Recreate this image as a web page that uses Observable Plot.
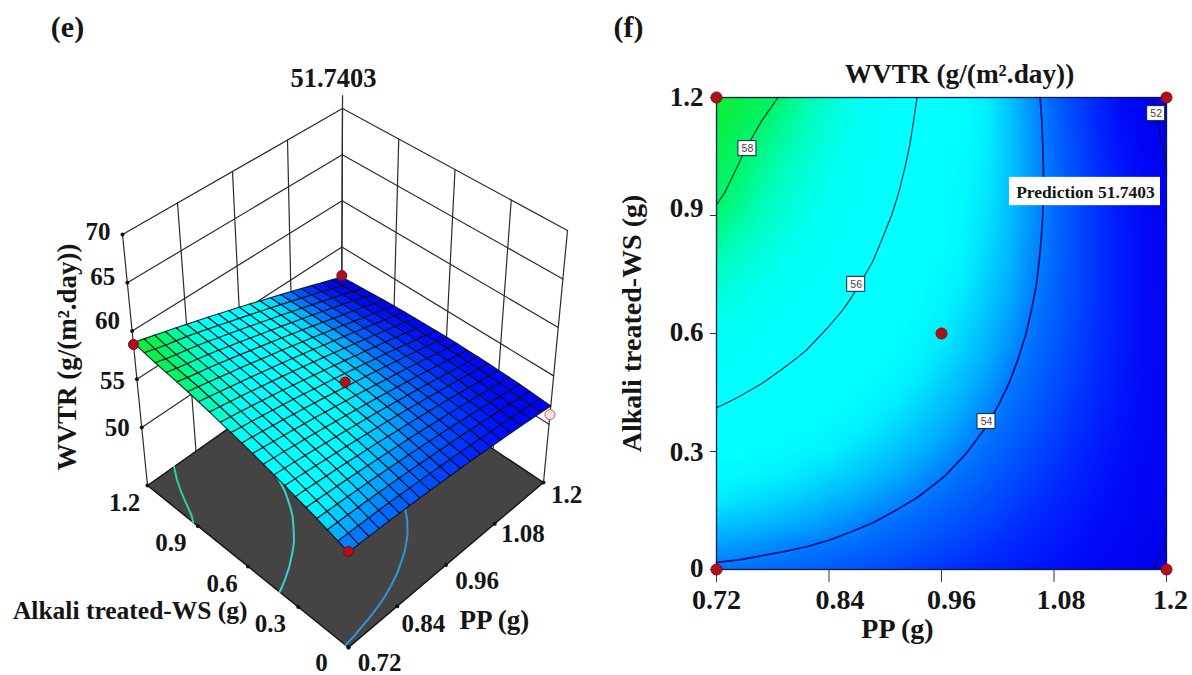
<!DOCTYPE html>
<html><head><meta charset="utf-8">
<style>
html,body{margin:0;padding:0;background:#fff;width:1192px;height:675px;overflow:hidden}
#e,#f{position:absolute;top:0}
#e{left:0}#f{left:600px}
</style>
<script src="https://cdn.jsdelivr.net/npm/d3@7"></script>
<script src="https://cdn.jsdelivr.net/npm/@observablehq/plot@0.6"></script>
</head><body><div id="e"></div><div id="f"></div>
<script>
// ---- data ----
const ppTicks = [0.72, 0.84, 0.96, 1.08, 1.2];
const wsTicks = [0, 0.3, 0.6, 0.9, 1.2];
const zTicks = [50, 55, 60, 65, 70];
const contourLevels = [52, 54, 56, 58];
// WVTR on a 21×21 mesh: rows run from WS = 1.2 down to WS = 0, columns from PP = 0.72 to 1.2
const wvtr = [
[58.80,58.51,58.22,57.92,57.62,57.29,56.98,56.65,56.31,55.97,55.62,55.26,54.89,54.53,54.15,53.76,53.38,52.98,52.57,52.16,51.74],
[58.60,58.30,58.00,57.76,57.51,57.21,56.90,56.58,56.25,55.92,55.59,55.24,54.89,54.54,54.17,53.80,53.42,53.04,52.64,52.24,51.84],
[58.40,58.10,57.85,57.63,57.39,57.10,56.80,56.50,56.19,55.87,55.55,55.21,54.88,54.53,54.18,53.82,53.46,53.08,52.71,52.31,51.92],
[58.24,57.97,57.72,57.50,57.26,56.99,56.70,56.42,56.11,55.81,55.50,55.18,54.85,54.53,54.18,53.84,53.48,53.13,52.76,52.38,52.00],
[58.10,57.84,57.60,57.38,57.13,56.87,56.60,56.31,56.03,55.75,55.45,55.14,54.82,54.50,54.18,53.84,53.50,53.15,52.80,52.44,52.08],
[57.92,57.71,57.47,57.23,56.99,56.74,56.48,56.21,55.94,55.67,55.37,55.09,54.78,54.47,54.16,53.84,53.51,53.17,52.84,52.49,52.13],
[57.73,57.51,57.29,57.06,56.84,56.60,56.35,56.09,55.84,55.58,55.30,55.02,54.73,54.43,54.13,53.83,53.51,53.18,52.86,52.53,52.18],
[57.51,57.31,57.10,56.90,56.67,56.45,56.21,55.98,55.73,55.48,55.22,54.95,54.67,54.39,54.10,53.80,53.50,53.19,52.87,52.55,52.22],
[57.28,57.10,56.91,56.71,56.50,56.29,56.07,55.84,55.61,55.36,55.11,54.86,54.60,54.33,54.06,53.77,53.48,53.18,52.88,52.57,52.25],
[57.06,56.88,56.70,56.52,56.33,56.13,55.92,55.70,55.47,55.25,55.01,54.77,54.52,54.27,54.00,53.74,53.46,53.17,52.87,52.58,52.27],
[56.82,56.66,56.49,56.32,56.14,55.94,55.75,55.55,55.34,55.12,54.90,54.67,54.43,54.19,53.94,53.68,53.42,53.14,52.86,52.58,52.29],
[56.57,56.42,56.26,56.10,55.94,55.76,55.58,55.39,55.19,54.99,54.78,54.56,54.33,54.10,53.87,53.63,53.37,53.11,52.84,52.57,52.29],
[56.30,56.17,56.03,55.88,55.73,55.56,55.39,55.21,55.03,54.84,54.64,54.44,54.23,54.01,53.78,53.55,53.31,53.06,52.81,52.55,52.28],
[56.04,55.92,55.79,55.65,55.50,55.36,55.20,55.04,54.86,54.69,54.50,54.31,54.11,53.91,53.69,53.47,53.24,53.01,52.77,52.52,52.27],
[55.77,55.66,55.54,55.41,55.28,55.14,55.00,54.84,54.69,54.53,54.36,54.18,53.99,53.79,53.59,53.38,53.17,52.94,52.72,52.49,52.25],
[55.47,55.38,55.28,55.16,55.05,54.92,54.79,54.65,54.51,54.36,54.19,54.03,53.85,53.67,53.48,53.29,53.09,52.87,52.66,52.44,52.21],
[55.18,55.10,55.00,54.90,54.80,54.69,54.57,54.44,54.31,54.17,54.03,53.87,53.71,53.53,53.36,53.18,52.99,52.79,52.59,52.39,52.17],
[54.88,54.80,54.72,54.64,54.54,54.44,54.33,54.23,54.10,53.98,53.84,53.70,53.55,53.40,53.23,53.06,52.88,52.71,52.51,52.32,52.12],
[54.55,54.49,54.43,54.36,54.28,54.19,54.10,54.00,53.89,53.77,53.65,53.52,53.39,53.24,53.10,52.94,52.78,52.60,52.43,52.24,52.05],
[54.23,54.19,54.13,54.07,54.01,53.94,53.85,53.76,53.66,53.56,53.45,53.34,53.21,53.09,52.95,52.81,52.66,52.50,52.33,52.16,51.98],
[53.90,53.87,53.82,53.78,53.73,53.66,53.60,53.52,53.43,53.34,53.25,53.14,53.03,52.92,52.80,52.66,52.53,52.38,52.22,52.07,51.90]
];
const designPP = [0.72, 1.2, 0.96, 0.72, 1.2];
const designWS = [1.2, 1.2, 0.6, 0, 0];
const designZ = [58.6, 51.9, 55.4, 54.0, 51.0];
const contourLabelPP = [0.753, 0.869, 1.008, 1.189];
const contourLabelWS = [1.070, 0.725, 0.376, 1.159];
const contourLabelText = ["58", "56", "54", "52"];

// ---- shared styles ----
const serif = "Liberation Serif";
const PP = [0.72, 1.2], WS = [0, 1.2], Zr = [44, 70];
const colorOpt = {
  type: "linear", interpolate: "rgb",
  domain: [51.8, 52.6, 53.1, 54, 54.3, 54.9, 55.3, 56.4, 57, 57.5, 58, 58.8],
  range: ["rgb(0,0,235)", "rgb(0,10,250)", "rgb(0,40,255)", "rgb(0,120,255)", "rgb(0,170,255)", "rgb(0,240,255)", "rgb(0,255,255)", "rgb(0,255,255)", "rgb(0,255,238)", "rgb(0,255,190)", "rgb(0,245,105)", "rgb(15,235,50)"]
};
const n = wvtr.length;
const ppAt = i => PP[0] + i / (n - 1) * (PP[1] - PP[0]);
const wsAt = j => WS[1] - j / (n - 1) * (WS[1] - WS[0]);

// open contour polylines, in data units, from the WVTR table
function contourPieces() {
  const out = [];
  const flat = wvtr.flat();
  let id = 0;
  for (const c of d3.contours().size([n, n]).thresholds(contourLevels)(flat)) {
    for (const poly of c.coordinates) for (const ring of poly) {
      let piece = [];
      const pts = ring.map(([x, y]) => [Math.max(.5, Math.min(n - .5, x)), Math.max(.5, Math.min(n - .5, y))]);
      const onEdge = (a, b) => (a[0] === b[0] && (a[0] === .5 || a[0] === n - .5)) || (a[1] === b[1] && (a[1] === .5 || a[1] === n - .5));
      const flush = () => {
        if (piece.length > 1) { id++; piece.forEach(d => d.id = id); out.push(...piece); }
        piece = [];
      };
      pts.forEach((p, k) => {
        if (k && onEdge(pts[k - 1], p)) flush();
        piece.push({pp: ppAt(p[0] - .5), ws: wsAt(p[1] - .5), level: c.value});
      });
      flush();
    }
  }
  return out;
}
const pieces = contourPieces();

// ---- (e) perspective box: corners of the floor and of the top plane ----
const floorC = {front: [348, 647], right: [543, 482], left: [147, 485], back: [341, 348]};
const topC = {front: [348, 397], right: [567, 230], left: [122, 234], back: [342, 108]};
function project(pp, ws, z) {
  const u = (pp - PP[0]) / (PP[1] - PP[0]), w = (ws - WS[0]) / (WS[1] - WS[0]), t = (z - Zr[0]) / (Zr[1] - Zr[0]);
  const bil = (c, k) => (1 - u) * (1 - w) * c.front[k] + u * (1 - w) * c.right[k] + (1 - u) * w * c.left[k] + u * w * c.back[k];
  return {x: (1 - t) * bil(floorC, 0) + t * bil(topC, 0), y: (1 - t) * bil(floorC, 1) + t * bil(topC, 1)};
}
const pt = (pp, ws, z, extra) => ({...project(pp, ws, z), ...extra});

// walls
const wallLines = [];
let wid = 0;
for (const z of zTicks) {
  wid++; wallLines.push(pt(PP[0], WS[1], z, {id: wid}), pt(PP[1], WS[1], z, {id: wid}), pt(PP[1], WS[0], z, {id: wid}));
}
for (const p of ppTicks) { wid++; wallLines.push(pt(p, WS[1], Zr[0], {id: wid}), pt(p, WS[1], Zr[1], {id: wid})); }
for (const s of wsTicks) { wid++; wallLines.push(pt(PP[1], s, Zr[0], {id: wid}), pt(PP[1], s, Zr[1], {id: wid})); }
wid++; wallLines.push(pt(PP[1], WS[1], Zr[1], {id: wid}), pt(PP[1], WS[1], 71.4, {id: wid}));

const floorPoly = [pt(PP[0], WS[0], Zr[0]), pt(PP[1], WS[0], Zr[0]), pt(PP[1], WS[1], Zr[0]), pt(PP[0], WS[1], Zr[0])];
const floorContours = pieces.map(d => ({...project(d.pp, d.ws, Zr[0]), id: d.id, level: d.level}));

// mesh quads
const quads = [];
for (let j = 0; j < n - 1; j++) for (let i = n - 2; i >= 0; i--) {
  const id = j * n + i;
  const v = (wvtr[j][i] + wvtr[j][i + 1] + wvtr[j + 1][i] + wvtr[j + 1][i + 1]) / 4;
  quads.push(pt(ppAt(i), wsAt(j), wvtr[j][i], {id, v}), pt(ppAt(i + 1), wsAt(j), wvtr[j][i + 1], {id, v}),
    pt(ppAt(i + 1), wsAt(j + 1), wvtr[j + 1][i + 1], {id, v}), pt(ppAt(i), wsAt(j + 1), wvtr[j + 1][i], {id, v}));
}

const floorContourColor = {54: "#2f95dc", 56: "#35d3cf", 58: "#2fd09a"};
const design = designPP.map((p, i) => pt(p, designWS[i], designZ[i], {low: i === 4}));
const txt = {fontFamily: serif, fontWeight: "bold", fill: "#151515"};

// nudges for the tick labels as they sit in the picture
const zNudgeY = [0, 2, -10, -6, -3];
const wsNudgeX = [-27, -28, -26, -27, -23];
const wsNudgeY = [15, 17, 17, 17, 17];
const ppNudge = [[31, 15], [26, 18], [31, 16], [28, 10], [23, 12]];

const chartE = Plot.plot({
  width: 600, height: 675, margin: 0,
  style: {background: "white", fontFamily: serif},
  x: {domain: [0, 600], range: [0, 600], axis: null},
  y: {domain: [0, 675], range: [0, 675], axis: null},
  color: colorOpt,
  marks: [
    Plot.line(wallLines, {x: "x", y: "y", z: "id", stroke: "#2b2b2b", strokeWidth: 1.2, curve: "linear"}),
    Plot.line(floorPoly, {x: "x", y: "y", fill: "#454343", stroke: "#111", strokeWidth: 1.4, curve: "linear-closed"}),
    ...[54, 56, 58].map(l => Plot.line(floorContours.filter(d => d.level === l), {x: "x", y: "y", z: "id", stroke: floorContourColor[l], strokeWidth: 2})),
    Plot.dot(zTicks.map(z => pt(PP[0], WS[1], z)), {x: "x", y: "y", r: 2, fill: "#111"}),
    Plot.dot(wsTicks.map(s => pt(PP[0], s, Zr[0])), {x: "x", y: "y", r: 2, fill: "#111"}),
    Plot.dot(ppTicks.map(p => pt(p, WS[0], Zr[0])), {x: "x", y: "y", r: 2, fill: "#111"}),
    Plot.line(quads, {x: "x", y: "y", z: "id", fill: "v", stroke: "#08141c", strokeWidth: 1.15, strokeOpacity: 0.9, curve: "linear-closed"}),
    Plot.dot(design, {x: "x", y: "y", r: 5, fill: d => d.low ? "#fbdfe0" : "#b0101a", stroke: d => d.low ? "#c06060" : "#7a0a10", strokeWidth: 1}),
    ...zTicks.map((z, i) => Plot.text([String(z)], {...pt(PP[0], WS[1], z), ...txt, fontSize: 25, textAnchor: "end", dx: -12, dy: zNudgeY[i]})),
    ...wsTicks.map((s, i) => Plot.text([String(s)], {...pt(PP[0], s, Zr[0]), ...txt, fontSize: 25, dx: wsNudgeX[i], dy: wsNudgeY[i]})),
    ...ppTicks.map((p, i) => Plot.text([String(p)], {...pt(p, WS[0], Zr[0]), ...txt, fontSize: 25, dx: ppNudge[i][0], dy: ppNudge[i][1]})),
    Plot.text(["51.7403"], {...pt(PP[1], WS[1], Zr[1]), ...txt, fontSize: 26.5, dx: -9, dy: -30}),
    Plot.text(["WVTR (g/(m².day))"], {...pt(PP[0], WS[1], 57), ...txt, fontSize: 27, rotate: -90, dx: -68, dy: -3}),
    Plot.text(["Alkali treated-WS (g)"], {...pt(PP[0], 0.3, Zr[0]), ...txt, fontSize: 25.5, dx: -168, dy: 4}),
    Plot.text(["PP (g)"], {...pt(0.84, WS[0], Zr[0]), ...txt, fontSize: 27, dx: 97, dy: 14}),
    Plot.text(["(e)"], {...pt(PP[0], WS[1], Zr[1]), ...txt, fontSize: 30, dx: -55, dy: -207})
  ]
});
document.getElementById("e").appendChild(chartE);

// ---- (f) contour plot ----
const hx = (PP[1] - PP[0]) / (n - 1) / 2, hy = (WS[1] - WS[0]) / (n - 1) / 2;
const contourStroke = {52: "#00105a", 54: "#00107a", 56: "#063848", 58: "#07402c"};
const contourWidth = {52: 1.2, 54: 1.7, 56: 1.2, 58: 1.2};
const xTickNudge = [0, 11, 10, 7, 4];
const yTickNudge = [-1, 1, -1, -7, 0];
const labels = contourLabelText.map((t, i) => ({t, pp: contourLabelPP[i], ws: contourLabelWS[i]}));

const chartF = Plot.plot({
  width: 592, height: 675,
  marginLeft: 116, marginRight: 26, marginTop: 97, marginBottom: 106,
  style: {background: "transparent", fontFamily: serif},
  x: {domain: PP, axis: null},
  y: {domain: WS, axis: null},
  color: colorOpt,
  marks: [
    Plot.raster(wvtr.flat(), {width: n, height: n, x1: PP[0] - hx, x2: PP[1] + hx, y1: WS[1] + hy, y2: WS[0] - hy, clip: true}),
    ...contourLevels.map(l => Plot.line(pieces.filter(d => d.level === l), {x: "pp", y: "ws", z: "id", stroke: contourStroke[l], strokeWidth: contourWidth[l]})),
    Plot.frame({stroke: "#0a1a50", strokeWidth: 1.3}),
    Plot.axisX(ppTicks, {tickSize: 13, tickFormat: () => "", label: null, stroke: "#333"}),
    Plot.axisY(wsTicks, {tickSize: 6, tickFormat: () => "", label: null, stroke: "#333"}),
    ...ppTicks.map((p, i) => Plot.text([String(p)], {x: p, y: WS[0], ...txt, fontSize: 28, dy: 31, dx: xTickNudge[i]})),
    ...wsTicks.map((s, i) => Plot.text([String(s)], {x: PP[0], y: s, ...txt, fontSize: 27, textAnchor: "end", dx: -13, dy: yTickNudge[i]})),
    Plot.rect(labels, {x1: "pp", x2: "pp", y1: "ws", y2: "ws", insetLeft: -9, insetRight: -9, insetTop: -7.5, insetBottom: -7.5, fill: "white", stroke: "#123", strokeWidth: 1}),
    Plot.text(labels, {x: "pp", y: "ws", text: "t", fontFamily: "Liberation Sans", fontSize: 10.5, fill: "#444"}),
    Plot.rect([0], {x1: 1.0325, x2: 1.1936, y1: 0.997, y2: 0.925, fill: "white"}),
    Plot.text(["Prediction 51.7403"], {x: 1.1136, y: 0.958, ...txt, fontSize: 17.5}),
    Plot.dot(designPP.map((p, i) => ({p, s: designWS[i]})), {x: "p", y: "s", r: 5.5, fill: "#b0101a", stroke: "#7a0a10", strokeWidth: 1}),
    Plot.text(["WVTR (g/(m².day))"], {frameAnchor: "top", lineAnchor: "middle", ...txt, fontSize: 27.3, dx: 18, dy: -23}),
    Plot.text(["PP (g)"], {frameAnchor: "bottom", lineAnchor: "middle", ...txt, fontSize: 28, dx: -44, dy: 60}),
    Plot.text(["Alkali treated-WS (g)"], {frameAnchor: "left", textAnchor: "middle", ...txt, fontSize: 28, rotate: -90, dx: -84, dy: -10}),
    Plot.text(["(f)"], {frameAnchor: "top-left", textAnchor: "middle", lineAnchor: "middle", ...txt, fontSize: 30, dx: -88, dy: -70})
  ]
});
document.getElementById("f").appendChild(chartF);
</script>
</body></html>
